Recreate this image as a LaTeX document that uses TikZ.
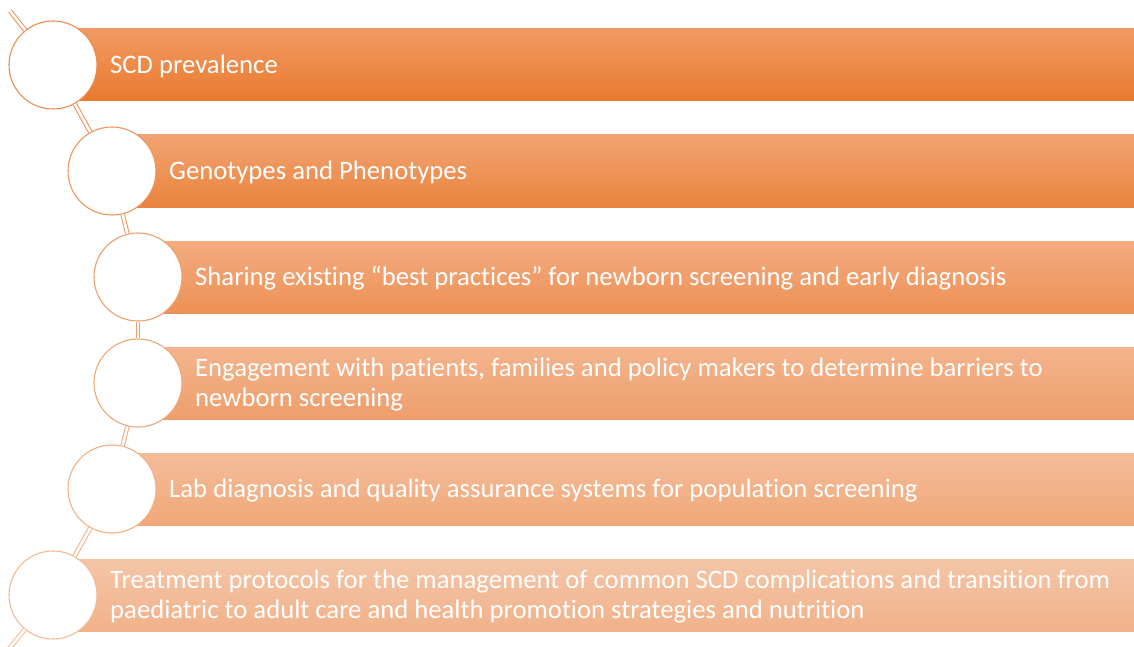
\documentclass[tikz,border=0pt]{standalone}
\usepackage{fontspec}
\setmainfont[RawFeature={-liga;-calt;-dlig;-clig}]{Carlito}
\begin{document}
\begin{tikzpicture}[x=1pt,y=-1pt,
  circ/.style={circle,draw=#1,fill=white,line width=1.1pt,minimum size=88pt,inner sep=0pt},
  lab/.style={anchor=west,text=white,font=\fontsize{26.7}{30}\selectfont,align=left,inner sep=0pt,yshift=-1.5pt},
  link/.style={draw=#1,double=white,double distance=2.6pt,line width=1pt}]
\useasboundingbox (0,0) rectangle (1134,647);
\definecolor{tA}{RGB}{241,154,100}\definecolor{mA}{RGB}{244,136,60}\definecolor{bA}{RGB}{233,122,46}
\definecolor{tB}{RGB}{242,163,114}\definecolor{mB}{RGB}{244,148,82}\definecolor{bB}{RGB}{233,132,62}
\definecolor{tC}{RGB}{243,171,128}\definecolor{mC}{RGB}{244,157,100}\definecolor{bC}{RGB}{237,145,86}
\definecolor{tD}{RGB}{244,180,142}\definecolor{mD}{RGB}{245,168,116}\definecolor{bD}{RGB}{238,158,106}
\definecolor{tE}{RGB}{244,188,154}\definecolor{mE}{RGB}{247,178,128}\definecolor{bE}{RGB}{240,168,120}
\definecolor{tF}{RGB}{245,197,167}\definecolor{mF}{RGB}{246,187,146}\definecolor{bF}{RGB}{240,178,138}
\definecolor{oA}{RGB}{238,140,80}\definecolor{oB}{RGB}{239,148,92}\definecolor{oC}{RGB}{240,158,106}
\definecolor{oD}{RGB}{241,166,118}\definecolor{oE}{RGB}{242,176,132}\definecolor{oF}{RGB}{243,186,148}
% bars
\shade[top color=tA,middle color=mA,bottom color=bA] (53,29) rectangle (1134,101);
\shade[top color=tB,middle color=mB,bottom color=bB] (112,135) rectangle (1134,207);
\shade[top color=tC,middle color=mC,bottom color=bC] (138,241) rectangle (1134,313);
\shade[top color=tD,middle color=mD,bottom color=bD] (138,347) rectangle (1134,419);
\shade[top color=tE,middle color=mE,bottom color=bE] (112,453) rectangle (1134,525);
\shade[top color=tF,middle color=mF,bottom color=bF] (53,559) rectangle (1134,631);
% circles
\coordinate (top) at (10,11);
\coordinate (bot) at (8,650);
\node[circ=oA] (c1) at (53,65) {};
\node[circ=oB] (c2) at (112,171) {};
\node[circ=oC] (c3) at (138,277) {};
\node[circ=oD] (c4) at (138,383) {};
\node[circ=oE] (c5) at (112,489) {};
\node[circ=oF] (c6) at (53,595) {};
\draw[link=oA] (top) -- (c1);
\draw[link=oA] (c1) -- (c2);
\draw[link=oB] (c2) -- (c3);
\draw[link=oC] (c3) -- (c4);
\draw[link=oD] (c4) -- (c5);
\draw[link=oE] (c5) -- (c6);
\draw[link=oF] (c6) -- (bot);
% labels
\node[lab] (l1) at (110,65) {SCD prevalence};
\node[lab] (l2) at (169,171) {Genotypes and Phenotypes};
\node[lab] (l3) at (195,277) {Sharing existing “best practices” for newborn screening and early diagnosis};
\node[lab] (l4) at (195,383) {Engagement with patients, families and policy makers to determine barriers to\\newborn screening};
\node[lab] (l5) at (169,489) {Lab diagnosis and quality assurance systems for population screening};
\node[lab] (l6) at (110,595) {Treatment protocols for the management of common SCD complications and transition from\\paediatric to adult care and health promotion strategies and nutrition};
\end{tikzpicture}
\end{document}
